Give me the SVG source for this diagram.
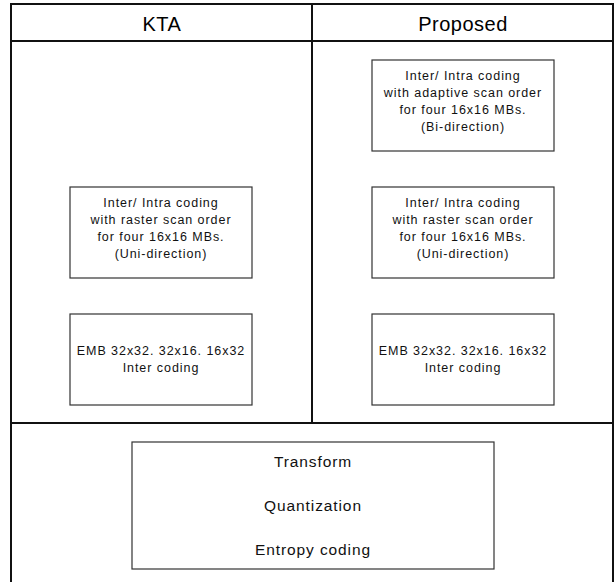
<svg xmlns="http://www.w3.org/2000/svg" width="615" height="582" viewBox="0 0 615 582">
<style>
.frame{fill:none;stroke:#111;stroke-width:2}
.box{fill:#fff;stroke:#333;stroke-width:1.2}
.hdr{font-family:"Liberation Sans",Arial,sans-serif;font-size:20px;letter-spacing:0.5px;fill:#000;text-anchor:middle}
.t{font-family:"Liberation Sans",Arial,sans-serif;font-size:12.5px;letter-spacing:0.95px;fill:#111;text-anchor:middle}
.tb{font-family:"Liberation Sans",Arial,sans-serif;font-size:15.5px;letter-spacing:0.9px;fill:#111;text-anchor:middle}
</style>
<rect width="615" height="582" fill="#fff"/>
<g id="frame">
<rect class="frame" x="11" y="4" width="602" height="590"/>
<line class="frame" x1="11" y1="41" x2="613" y2="41"/>
<line class="frame" x1="312" y1="4" x2="312" y2="423"/>
<line class="frame" x1="11" y1="423" x2="613" y2="423"/>
<text class="hdr" x="162" y="31">KTA</text>
<text class="hdr" x="463" y="31">Proposed</text>
</g>
<g id="connectors"></g>
<g id="p-adaptive">
<rect class="box" x="372" y="60" width="182" height="91"/>
<text class="t" x="463" y="80">Inter/ Intra coding</text>
<text class="t" x="463" y="97">with adaptive scan order</text>
<text class="t" x="463" y="114">for four 16x16 MBs.</text>
<text class="t" x="463" y="131">(Bi-direction)</text>
</g>
<g id="k-raster">
<rect class="box" x="70" y="187" width="182" height="91"/>
<text class="t" x="161" y="207">Inter/ Intra coding</text>
<text class="t" x="161" y="224">with raster scan order</text>
<text class="t" x="161" y="241">for four 16x16 MBs.</text>
<text class="t" x="161" y="258">(Uni-direction)</text>
</g>
<g id="p-raster">
<rect class="box" x="372" y="187" width="182" height="91"/>
<text class="t" x="463" y="207">Inter/ Intra coding</text>
<text class="t" x="463" y="224">with raster scan order</text>
<text class="t" x="463" y="241">for four 16x16 MBs.</text>
<text class="t" x="463" y="258">(Uni-direction)</text>
</g>
<g id="k-emb">
<rect class="box" x="70" y="314" width="182" height="91"/>
<text class="t" x="161" y="355">EMB 32x32. 32x16. 16x32</text>
<text class="t" x="161" y="372">Inter coding</text>
</g>
<g id="p-emb">
<rect class="box" x="372" y="314" width="182" height="91"/>
<text class="t" x="463" y="355">EMB 32x32. 32x16. 16x32</text>
<text class="t" x="463" y="372">Inter coding</text>
</g>
<g id="common">
<rect class="box" x="132" y="442" width="362" height="127"/>
<text class="tb" x="313" y="467">Transform</text>
<text class="tb" x="313" y="511">Quantization</text>
<text class="tb" x="313" y="555">Entropy coding</text>
</g>
</svg>
